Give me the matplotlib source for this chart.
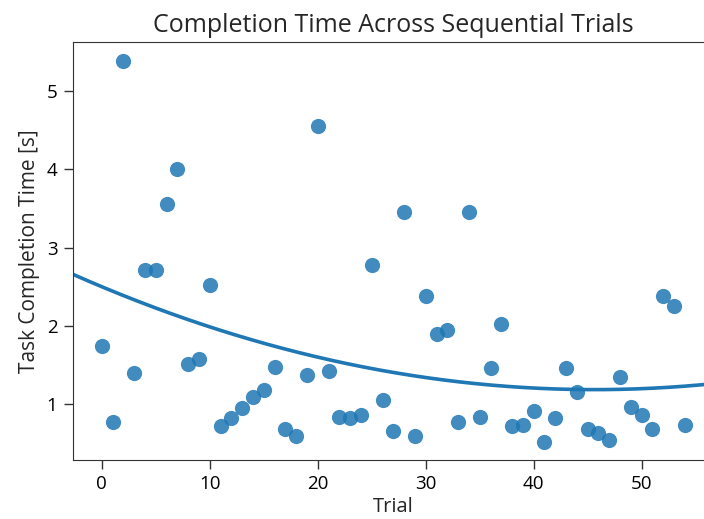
import numpy as np
import matplotlib
matplotlib.use("Agg")
import matplotlib.pyplot as plt

plt.rcParams['font.family'] = ['Open Sans', 'DejaVu Sans']

trials = list(range(55))
times = [1.75, 0.77, 5.39, 1.40, 2.71, 2.71, 3.56, 4.01, 1.51, 1.58,
         2.52, 0.72, 0.82, 0.96, 1.09, 1.19, 1.48, 0.69, 0.60, 1.38,
         4.55, 1.43, 0.84, 0.82, 0.87, 2.78, 1.06, 0.66, 3.45, 0.60,
         2.39, 1.90, 1.95, 0.77, 3.45, 0.84, 1.46, 2.02, 0.73, 0.74,
         0.92, 0.52, 0.82, 1.46, 1.16, 0.68, 0.63, 0.55, 1.35, 0.97,
         0.87, 0.69, 2.39, 2.25, 0.74]

x = np.array(trials, dtype=float)
y = np.array(times)

fig = plt.figure(figsize=(7.04, 5.19), dpi=100)
ax = fig.add_axes([72.7/704, (519-460)/519, (714-72.7)/704, (460-41.7)/519])

color = '#1f77b4'
ax.scatter(x, y, s=120, color=color, alpha=0.85, linewidths=0)

xmin, xmax = -2.7, 56.7
coef = np.polyfit(x, y, 2)
grid = np.linspace(xmin, xmax, 200)
ax.plot(grid, np.polyval(coef, grid), color=color, lw=2.6)

ax.set_xlim(xmin, xmax)
ax.set_ylim(0.29, 5.63)
ax.set_xticks([0, 10, 20, 30, 40, 50])
ax.set_yticks([1, 2, 3, 4, 5])
ax.tick_params(labelsize=13.5, length=6.5, width=1, color='#333333', pad=4.5)
for s in ax.spines.values():
    s.set_color('#333333')
ax.set_xlabel('Trial', fontsize=14.5, color='#262626', labelpad=3)
ax.set_ylabel('Task Completion Time [s]', fontsize=15, color='#262626', labelpad=5)
ax.set_title('Completion Time Across Sequential Trials', fontsize=18, color='#262626', pad=7)

fig.savefig('out.png', dpi=100)
